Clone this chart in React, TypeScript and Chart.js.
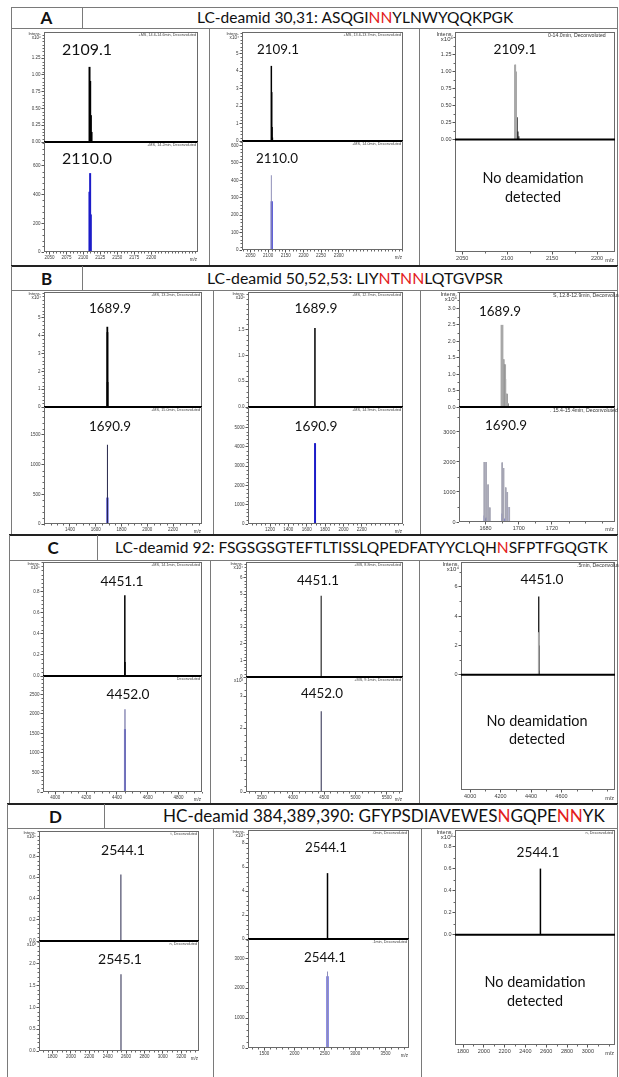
import React, { useEffect, useRef, useMemo } from 'react';
import { Chart, registerables } from 'chart.js';

Chart.register(...registerables);

const FONT = 'Lato, "Open Sans", "Noto Sans", sans-serif';
const TFONT = '"Liberation Sans", Arial, sans-serif';
const INK = '#000000';
const BLUE = '#1c1cc8';
const GRAY = '#a8a8a8';
const LAV = '#8e8eb8';
const NAVY = '#26264a';
const RED = '#e3201b';

// ---------------- titles ----------------
const titleA = 'LC-deamid 30,31: ';
const seqA = [['ASQGI', 0], ['NN', 1], ['YLNWYQQKPGK', 0]];
const titleB = 'LC-deamid 50,52,53: ';
const seqB = [['LIY', 0], ['N', 1], ['T', 0], ['NN', 1], ['LQTGVPSR', 0]];
const titleC = 'LC-deamid 92: ';
const seqC = [['FSGSGSGTEFTLTISSLQPEDFATYYCLQH', 0], ['N', 1], ['SFPTFGQGTK', 0]];
const titleD = 'HC-deamid 384,389,390: ';
const seqD = [['GFYPSDIAVEWES', 0], ['N', 1], ['GQPE', 0], ['NN', 1], ['YK', 0]];

// ---------------- axis ticks ----------------
const a1XTicks = [2050, 2075, 2100, 2125, 2150, 2175, 2200];
const a2XTicks = [2050, 2100, 2150, 2200, 2250, 2300];
const a3XTicks = [2050, 2100, 2150, 2200];
const b1XTicks = [1400, 1600, 1800, 2000, 2200];
const b2XTicks = [1200, 1400, 1600, 1800, 2000, 2200];
const b3XTicks = [1680, 1700, 1720];
const c1XTicks = [4000, 4200, 4400, 4600, 4800];
const c2XTicks = [3500, 4000, 4500, 5000, 5500];
const c3XTicks = [4000, 4200, 4400, 4600];
const d1XTicks = [1800, 2000, 2200, 2400, 2600, 2800, 3000, 3200];
const d2XTicks = [1500, 2000, 2500, 3000, 3500];
const d3XTicks = [1800, 2000, 2200, 2400, 2600, 2800, 3000];

const a1TopYTicks = [0, 0.25, 0.5, 0.75, 1.0, 1.25];
const a1BotYTicks = [0, 200, 400, 600];
const a2TopYTicks = [0, 1, 2, 3, 4, 5];
const a2BotYTicks = [0, 100, 200, 300, 400, 500, 600];
const a3YTicks = [0, 0.25, 0.5, 0.75, 1.0, 1.25];
const b1TopYTicks = [0, 1, 2, 3, 4, 5];
const b1BotYTicks = [0, 500, 1000, 1500];
const b2TopYTicks = [0, 0.5, 1.0, 1.5];
const b2BotYTicks = [0, 1000, 2000, 3000, 4000, 5000];
const b3TopYTicks = [0, 0.5, 1.0, 1.5, 2.0, 2.5, 3.0];
const b3BotYTicks = [0, 1000, 2000, 3000];
const c1TopYTicks = [0, 0.2, 0.4, 0.6, 0.8];
const c1BotYTicks = [0, 500, 1000, 1500, 2000, 2500];
const c2TopYTicks = [0, 1, 2, 3, 4, 5, 6];
const c2BotYTicks = [0, 1, 2, 3];
const c3YTicks = [0, 2, 4, 6];
const d1TopYTicks = [0, 0.2, 0.4, 0.6, 0.8];
const d1BotYTicks = [0, 0.5, 1.0, 1.5, 2.0];
const d2TopYTicks = [0, 2, 4, 6, 8];
const d2BotYTicks = [0, 1000, 2000, 3000];
const d3YTicks = [0, 0.2, 0.4, 0.6, 0.8];

// ---------------- peak labels ----------------
const aLabels = ['2109.1', '2110.0'];
const bLabels = ['1689.9', '1690.9'];
const cLabels = ['4451.1', '4452.0', '4451.0'];
const dLabels = ['2544.1', '2545.1'];
const noDeamid = ['No deamidation', 'detected'];

// ---------------- spectra (m/z, intensity) ----------------
const a1TopMz = [2109.1, 2110.1, 2111.1, 2112.1];
const a1TopInt = [1.12, 0.91, 0.4, 0.15];
const a1BotMz = [2109.0, 2110.0, 2111.0];
const a1BotInt = [420, 550, 262];

const a2TopMz = [2109.1, 2110.1, 2111.1, 2112.1];
const a2TopInt = [4.3, 2.8, 0.8, 0.2];
const a2BotLightMz = [2109.1];
const a2BotLightInt = [430];
const a2BotMz = [2110.1];
const a2BotInt = [280];

const a3GrayMz = [2109.1, 2110.1];
const a3GrayInt = [1.1, 1.0];
const a3InkMz = [2108.9, 2110.3, 2111.2, 2112.1, 2113.1];
const a3InkInt = [1.1, 0.8, 0.33, 0.12, 0.05];

const b1TopMz = [1689.9, 1690.9, 1691.9];
const b1TopInt = [4.5, 4.2, 1.4];
const b1BotDarkMz = [1690.9];
const b1BotDarkInt = [1335];
const b1BotMz = [1690.9];
const b1BotInt = [445];

const b2TopMz = [1689.9];
const b2TopInt = [1.53];
const b2BotMz = [1690.9];
const b2BotInt = [4200];

const b3TopGrayMz = [1689.5, 1690.3, 1691.1, 1691.9, 1692.7, 1693.5];
const b3TopGrayInt = [2.5, 2.5, 1.45, 1.3, 0.4, 0.12];
const b3TopInkMz = [1689.7, 1690.5, 1691.3, 1692.1, 1692.9, 1693.7];
const b3TopInkInt = [1.2, 1.45, 1.3, 0.85, 0.4, 0.1];
const b3BotGrayMz = [1679.2, 1680.3, 1681.5, 1682.6, 1690.0, 1690.9, 1692.2, 1693.1, 1694.3];
const b3BotGrayInt = [2000, 2000, 1250, 480, 1980, 1800, 1150, 1000, 500];
const b3BotBlueMz = [1679.2, 1679.8, 1680.3, 1690.0, 1690.6, 1691.2, 1693.1, 1694.3];
const b3BotBlueInt = [220, 120, 150, 280, 150, 120, 1000, 500];

const c1TopMz = [4451.1, 4452.1];
const c1TopInt = [0.765, 0.133];
const c1BotLightMz = [4452.0];
const c1BotLightInt = [2120];
const c1BotMz = [4452.0];
const c1BotInt = [1610];

const c2TopMz = [4451.1];
const c2TopInt = [4.89];
const c2BotMz = [4452.0];
const c2BotInt = [2.53];

const c3GrayMz = [4450.6];
const c3GrayInt = [2.9];
const c3InkMz = [4451.0, 4452.0, 4453.0];
const c3InkInt = [5.34, 2.0, 0.3];

const d1TopMz = [2544.1];
const d1TopInt = [0.632];
const d1BotMz = [2545.1];
const d1BotInt = [1.756];

const d2TopMz = [2544.1];
const d2TopInt = [5.5];
const d2BotLightMz = [2544.1];
const d2BotLightInt = [2560];
const d2BotMz = [2544.1];
const d2BotInt = [2400];

const d3Mz = [2544.1];
const d3Int = [0.6];

// ---------------- layout ----------------
const AXW = 34, PADT = 3, PADR = 4, PADB = 3, AXH = 12;
const RIGHT = 618;

const SECTIONS = [
  { id: 'A', top: 7, hdrB: 28, bottom: 266, left: 11, lblR: 82, div1: 209, div2: 419, titleL: 197, titleW: 317, thick: false, title: titleA, seq: seqA },
  { id: 'B', top: 266, hdrB: 290, bottom: 535, left: 11, lblR: 82, div1: 213, div2: 420, titleL: 207, titleW: 296, thick: true, title: titleB, seq: seqB },
  { id: 'C', top: 535, hdrB: 560, bottom: 804, left: 9, lblR: 97, div1: 210, div2: 419, titleL: 115, titleW: 493, thick: true, title: titleC, seq: seqC },
  { id: 'D', top: 804, hdrB: 828, bottom: 1077, left: 7, lblR: 104, div1: 213, div2: 421, titleL: 163, titleW: 442, thick: true, title: titleD, seq: seqD },
];

const S = (mz, inten, color, w) => ({ mz, inten, color, w });

const COLS = [
  { kind: 'two', L: 44, R: 198, T: 32, M: 142, B: 252, xMin: 2042, xMax: 2269, xTicks: a1XTicks, xMinor: 5, yMinor: 5, tick: 4.5, peak: 50,
    top: { yMax: 1.64, yTicks: a1TopYTicks, yDigits: 2, exp: 'x10⁶', series: [S(a1TopMz, a1TopInt, INK, 2)], label: aLabels[0], lx: 87, ly: 50, info: '+MS, 14.6-14.6min, Deconvoluted' },
    bot: { yMax: 767, yTicks: a1BotYTicks, yDigits: 0, exp: '', series: [S(a1BotMz, a1BotInt, BLUE, 2)], label: aLabels[1], lx: 87, ly: 159, info: '+MS, 14.2min, Deconvoluted' } },
  { kind: 'two', L: 242, R: 403, T: 32, M: 141, B: 250, xMin: 2026, xMax: 2482, xTicks: a2XTicks, xMinor: 5, yMinor: 5, tick: 4.5, peak: 42,
    top: { yMax: 6.24, yTicks: a2TopYTicks, yDigits: 0, exp: 'x10⁴', series: [S(a2TopMz, a2TopInt, INK, 1.5)], label: aLabels[0], lx: 278, ly: 50, info: '+MS, 13.6-13.7min, Deconvoluted' },
    bot: { yMax: 626, yTicks: a2BotYTicks, yDigits: 0, exp: '', series: [S(a2BotLightMz, a2BotLightInt, LAV, 1), S(a2BotMz, a2BotInt, BLUE, 2)], label: aLabels[1], lx: 277, ly: 159, info: '+MS, 14.0min, Deconvoluted' } },
  { kind: 'one', L: 455, R: 615, T: 32, B: 252, xMin: 2042, xMax: 2220, xTicks: a3XTicks, xMinor: 2, yMinor: 2, tick: 5.5, peak: 43,
    yMin: -1.65, yMax: 1.58, yTicks: a3YTicks, yDigits: 2, exp: 'x10⁵',
    series: [S(a3GrayMz, a3GrayInt, GRAY, 1.6), S(a3InkMz, a3InkInt, INK, 0.9)], label: aLabels[0], lx: 515, ly: 50,
    info: '0-14.0min, Deconvoluted', infoX: 548, nd: [533, 178, 197] },

  { kind: 'two', L: 44, R: 202, T: 292, M: 407, B: 524, xMin: 1199, xMax: 2424, xTicks: b1XTicks, xMinor: 4, yMinor: 5, tick: 4.5, peak: 42,
    top: { yMax: 6.45, yTicks: b1TopYTicks, yDigits: 0, exp: 'x10⁴', series: [S(b1TopMz, b1TopInt, INK, 1.8)], label: bLabels[0], lx: 110, ly: 309, info: '+MS, 13.2min, Deconvoluted' },
    bot: { yMax: 1970, yTicks: b1BotYTicks, yDigits: 0, exp: '', series: [S(b1BotDarkMz, b1BotDarkInt, NAVY, 1), S(b1BotMz, b1BotInt, BLUE, 2)], label: bLabels[1], lx: 110, ly: 427, info: '+MS, 15.0min, Deconvoluted' } },
  { kind: 'two', L: 248, R: 403, T: 292, M: 407, B: 524, xMin: 960, xMax: 2650, xTicks: b2XTicks, xMinor: 4, yMinor: 5, tick: 4.5, peak: 43,
    top: { yMax: 2.23, yTicks: b2TopYTicks, yDigits: 1, exp: 'x10⁵', series: [S(b2TopMz, b2TopInt, INK, 1.5)], label: bLabels[0], lx: 316, ly: 309, info: '+MS, 12.7min, Deconvoluted' },
    bot: { yMax: 6076, yTicks: b2BotYTicks, yDigits: 0, exp: '', series: [S(b2BotMz, b2BotInt, BLUE, 2)], label: bLabels[1], lx: 316, ly: 427, info: '+MS, 14.9min, Deconvoluted' } },
  { kind: 'two', L: 459, R: 615, T: 292, M: 407, B: 522, xMin: 1664, xMax: 1758, xTicks: b3XTicks, xMinor: 2, yMinor: 2, tick: 5.5, peak: 42,
    top: { yMax: 3.5, yTicks: b3TopYTicks, yDigits: 1, exp: 'x10⁵', series: [S(b3TopGrayMz, b3TopGrayInt, GRAY, 1.5), S(b3TopInkMz, b3TopInkInt, INK, 0.9)], label: bLabels[0], lx: 500, ly: 312, info: 'S, 12.8-12.9min, Deconvoluted', infoX: 553 },
    bot: { yMax: 3833, yTicks: b3BotYTicks, yDigits: 0, exp: '', series: [S(b3BotGrayMz, b3BotGrayInt, '#a6a6b4', 1.6), S(b3BotGrayMz, b3BotGrayInt, NAVY, 0.6), S(b3BotBlueMz, b3BotBlueInt, BLUE, 1)], label: bLabels[1], lx: 506, ly: 426, info: '. 15.4-15.4min, Deconvoluted', infoX: 550 } },

  { kind: 'two', L: 43, R: 202, T: 562, M: 676, B: 792, xMin: 3920, xMax: 4952, xTicks: c1XTicks, xMinor: 4, yMinor: 5, tick: 4.5, peak: 43,
    top: { yMax: 1.08, yTicks: c1TopYTicks, yDigits: 1, exp: 'x10⁵', series: [S(c1TopMz, c1TopInt, INK, 1.5)], label: cLabels[0], lx: 122, ly: 582, info: '+MS, 14.1min, Deconvoluted' },
    bot: { yMax: 2969, yTicks: c1BotYTicks, yDigits: 0, exp: '', series: [S(c1BotLightMz, c1BotLightInt, LAV, 1.5), S(c1BotMz, c1BotInt, BLUE, 2)], label: cLabels[1], lx: 128, ly: 695, info: 'Deconvoluted' } },
  { kind: 'two', L: 246, R: 403, T: 562, M: 677, B: 792, xMin: 3250, xMax: 5759, xTicks: c2XTicks, xMinor: 5, yMinor: 5, tick: 4.5, peak: 42,
    top: { yMax: 6.93, yTicks: c2TopYTicks, yDigits: 0, exp: 'x10⁴', series: [S(c2TopMz, c2TopInt, INK, 1)], label: cLabels[0], lx: 318, ly: 581, info: '+MS, 8.8min, Deconvoluted' },
    bot: { yMax: 3.6, yTicks: c2BotYTicks, yDigits: 0, exp: 'x10³', series: [S(c2BotMz, c2BotInt, NAVY, 1)], label: cLabels[1], lx: 322, ly: 694, info: '+MS, 9.1min, Deconvoluted' } },
  { kind: 'one', L: 461, R: 615, T: 562, B: 790, xMin: 3940, xMax: 4952, xTicks: c3XTicks, xMinor: 2, yMinor: 2, tick: 5.5, peak: 43,
    yMin: -7.84, yMax: 7.68, yTicks: c3YTicks, yDigits: 0, exp: 'x10⁴',
    series: [S(c3GrayMz, c3GrayInt, GRAY, 1.6), S(c3InkMz, c3InkInt, INK, 1.2)], label: cLabels[2], lx: 542, ly: 580,
    info: '.5min, Deconvoluted', infoX: 577, nd: [537, 721, 739] },

  { kind: 'two', L: 39, R: 199, T: 831, M: 941, B: 1051, xMin: 1653, xMax: 3394, xTicks: d1XTicks, xMinor: 4, yMinor: 5, tick: 4.5, peak: 44,
    top: { yMax: 1.044, yTicks: d1TopYTicks, yDigits: 1, exp: 'x10⁵', series: [S(d1TopMz, d1TopInt, NAVY, 1)], label: dLabels[0], lx: 123, ly: 850, info: 't, Deconvoluted' },
    bot: { yMax: 2.52, yTicks: d1BotYTicks, yDigits: 1, exp: 'x10³', series: [S(d1BotMz, d1BotInt, NAVY, 1)], label: dLabels[1], lx: 120, ly: 959, info: 'n, Deconvoluted' } },
  { kind: 'two', L: 248, R: 409, T: 830, M: 939, B: 1048, xMin: 1232, xMax: 3889, xTicks: d2XTicks, xMinor: 5, yMinor: 5, tick: 4.5, peak: 42,
    top: { yMax: 9.1, yTicks: d2TopYTicks, yDigits: 0, exp: 'x10⁴', series: [S(d2TopMz, d2TopInt, INK, 1.5)], label: dLabels[0], lx: 326, ly: 848, info: '.0min, Deconvoluted' },
    bot: { yMax: 3645, yTicks: d2BotYTicks, yDigits: 0, exp: '', series: [S(d2BotLightMz, d2BotLightInt, LAV, 1), S(d2BotMz, d2BotInt, BLUE, 2)], label: dLabels[0], lx: 325, ly: 958, info: '.1min, Deconvoluted' } },
  { kind: 'one', L: 455, R: 615, T: 830, B: 1045, xMin: 1723, xMax: 3261, xTicks: d3XTicks, xMinor: 2, yMinor: 2, tick: 5.5, peak: 43,
    yMin: -1.0, yMax: 0.95, yTicks: d3YTicks, yDigits: 1, exp: 'x10⁵',
    series: [S(d3Mz, d3Int, INK, 1.5)], label: dLabels[0], lx: 538, ly: 853,
    info: 'n, Deconvoluted', nd: [535, 982, 1001] },
];

// ---------------- helpers ----------------
let mctx = null;
function fitFont(text, width, weight = 'normal', family = FONT) {
  if (!mctx) mctx = document.createElement('canvas').getContext('2d');
  mctx.font = `${weight} 100px ${family}`;
  const w = mctx.measureText(text).width;
  return w > 0 ? (100 * width) / w : 14;
}

function minorVals(ticks, n, min, max) {
  if (!ticks || ticks.length < 2 || n < 2) return [];
  const step = (ticks[1] - ticks[0]) / n;
  let v = ticks[0];
  while (v - step >= min - 1e-9) v -= step;
  const out = [];
  for (; v <= max + 1e-9; v += step) {
    if (!ticks.some((t) => Math.abs(t - v) < step * 0.01)) out.push(v);
  }
  return out;
}

function buildPanes(c) {
  const pk = fitFont('2109.1', c.peak);
  const ndSize = fitFont('No deamidation', 101);
  const intens = (T, big) => [
    { x: c.L - (big ? 2 : 3), y: T + (big ? 2 : 1.5), s: 'Intens.', size: big ? 5.5 : 4.2, font: TFONT, color: '#333', align: 'right' },
  ];
  const expT = (T, s, big) => (s ? [{ x: c.L - (big ? 2 : 3), y: T + (big ? 7 : 5.5), s, size: big ? 6 : 4.6, font: TFONT, color: '#333', align: 'right' }] : []);
  const infoT = (T, info, infoX) =>
    infoX
      ? [{ x: infoX, y: T + 3.5, s: info, size: 5.2, font: TFONT, color: '#333', align: 'left' }]
      : [{ x: c.R - 2, y: T + 3, s: info, size: 3.8, font: TFONT, color: '#444', align: 'right' }];
  const big = c.tick > 5;
  if (c.kind === 'two') {
    const top = {
      L: c.L, R: c.R, T: c.T, B: c.M, xMin: c.xMin, xMax: c.xMax, xTicks: null, xMinor: c.xMinor,
      yMin: 0, yMax: c.top.yMax, yTicks: c.top.yTicks, yDigits: c.top.yDigits, yMinor: c.yMinor,
      series: c.top.series, zero: true, sides: 'tlr', tick: c.tick,
      texts: [
        { x: c.top.lx, y: c.top.ly, s: c.top.label, size: pk, font: FONT, color: '#111', align: 'center' },
        ...intens(c.T, big), ...expT(c.T, c.top.exp, big), ...infoT(c.T, c.top.info, c.top.infoX),
      ],
    };
    const bot = {
      L: c.L, R: c.R, T: c.M, B: c.B, xMin: c.xMin, xMax: c.xMax, xTicks: c.xTicks, xMinor: c.xMinor,
      yMin: 0, yMax: c.bot.yMax, yTicks: c.bot.yTicks, yDigits: c.bot.yDigits, yMinor: c.yMinor,
      series: c.bot.series, zero: false, sides: 'lrb', tick: c.tick,
      texts: [
        { x: c.bot.lx, y: c.bot.ly, s: c.bot.label, size: pk, font: FONT, color: '#111', align: 'center' },
        ...(c.bot.exp ? [{ x: c.L - 3, y: c.M + 4, s: c.bot.exp, size: 4.6, font: TFONT, color: '#333', align: 'right' }] : []),
        ...infoT(c.M, c.bot.info, c.bot.infoX),
        { x: c.R - 1, y: c.B + 7.5, s: 'm/z', size: c.tick, font: TFONT, color: '#333', align: 'right' },
      ],
    };
    return [top, bot];
  }
  return [{
    L: c.L, R: c.R, T: c.T, B: c.B, xMin: c.xMin, xMax: c.xMax, xTicks: c.xTicks, xMinor: c.xMinor,
    yMin: c.yMin, yMax: c.yMax, yTicks: c.yTicks, yDigits: c.yDigits, yMinor: c.yMinor,
    series: c.series, zero: true, sides: 'tlrb', tick: c.tick,
    texts: [
      { x: c.lx, y: c.ly, s: c.label, size: pk, font: FONT, color: '#111', align: 'center' },
      ...intens(c.T, true), ...expT(c.T, c.exp, true), ...infoT(c.T, c.info, c.infoX),
      { x: c.nd[0], y: c.nd[1], s: noDeamid[0], size: ndSize, font: FONT, color: '#111', align: 'center' },
      { x: c.nd[0], y: c.nd[2], s: noDeamid[1], size: ndSize, font: FONT, color: '#111', align: 'center' },
      { x: c.R - 1, y: c.B + 8, s: 'm/z', size: c.tick, font: TFONT, color: '#333', align: 'right' },
    ],
  }];
}

function makeConfig(p, cl, ct) {
  const hasX = !!p.xTicks;
  const decor = {
    id: 'decor',
    afterDraw(chart) {
      const { ctx, chartArea: a, scales } = chart;
      const xs = scales.x, ys = scales.y;
      ctx.save();
      ctx.strokeStyle = '#6a6a6a';
      ctx.lineWidth = 1;
      const l = Math.round(a.left) + 0.5, r = Math.round(a.right) - 0.5;
      const t = Math.round(a.top) + 0.5, b = Math.round(a.bottom) - 0.5;
      ctx.beginPath();
      if (p.sides.includes('t')) { ctx.moveTo(l, t); ctx.lineTo(r, t); }
      if (p.sides.includes('b')) { ctx.moveTo(l, b); ctx.lineTo(r, b); }
      if (p.sides.includes('l')) { ctx.moveTo(l, t - 0.5); ctx.lineTo(l, b + 0.5); }
      if (p.sides.includes('r')) { ctx.moveTo(r, t - 0.5); ctx.lineTo(r, b + 0.5); }
      ctx.stroke();
      ctx.strokeStyle = '#666';
      ctx.beginPath();
      for (const v of minorVals(p.yTicks, p.yMinor, Math.max(0, p.yMin), p.yMax)) {
        const py = Math.round(ys.getPixelForValue(v)) + 0.5;
        ctx.moveTo(a.left - 1.5, py); ctx.lineTo(a.left, py);
      }
      if (hasX) {
        for (const v of minorVals(p.xTicks, p.xMinor, p.xMin, p.xMax)) {
          const px = Math.round(xs.getPixelForValue(v)) + 0.5;
          ctx.moveTo(px, a.bottom); ctx.lineTo(px, a.bottom + 1.5);
        }
      }
      ctx.stroke();
      if (p.zero) {
        const y0 = ys.getPixelForValue(0);
        ctx.strokeStyle = '#000';
        ctx.lineWidth = 2;
        ctx.beginPath();
        ctx.moveTo(a.left, y0); ctx.lineTo(a.right, y0);
        ctx.stroke();
      }
      for (const tx of p.texts) {
        ctx.font = `${tx.weight || 'normal'} ${tx.size}px ${tx.font || FONT}`;
        ctx.fillStyle = tx.color || '#111';
        ctx.textAlign = tx.align || 'center';
        ctx.textBaseline = 'middle';
        ctx.fillText(tx.s, tx.x - cl, tx.y - ct);
      }
      ctx.restore();
    },
  };
  const tickFont = { size: p.tick, family: TFONT };
  return {
    type: 'bar',
    data: {
      datasets: p.series.map((s) => ({
        data: s.mz.map((x, i) => ({ x, y: s.inten[i] })),
        backgroundColor: s.color,
        borderWidth: 0,
        barThickness: s.w,
        grouped: false,
        inflateAmount: 0,
        xAxisID: 'x',
        yAxisID: 'y',
      })),
    },
    options: {
      animation: false,
      responsive: false,
      maintainAspectRatio: false,
      devicePixelRatio: 1,
      events: [],
      layout: { padding: { left: 0, top: PADT, right: PADR, bottom: hasX ? 0 : PADB } },
      plugins: { legend: { display: false }, tooltip: { enabled: false }, title: { display: false } },
      scales: {
        x: {
          type: 'linear', position: 'bottom', min: p.xMin, max: p.xMax, offset: false, display: hasX,
          grid: { display: true, drawOnChartArea: false, drawTicks: true, tickLength: 2.5, color: '#555', offset: false },
          border: { display: false },
          ticks: { font: tickFont, color: '#3a3a3a', padding: 1, autoSkip: false, maxRotation: 0, minRotation: 0, callback: (v) => String(v) },
          afterBuildTicks: (ax) => { ax.ticks = (p.xTicks || []).map((v) => ({ value: v })); },
          afterFit: (ax) => { ax.height = hasX ? AXH : 0; ax.paddingLeft = 0; ax.paddingRight = 0; },
        },
        y: {
          type: 'linear', position: 'left', min: p.yMin, max: p.yMax,
          grid: { display: true, drawOnChartArea: false, drawTicks: true, tickLength: 2.5, color: '#555' },
          border: { display: false },
          ticks: { font: tickFont, color: '#3a3a3a', padding: 1, autoSkip: false, callback: (v) => Number(v).toFixed(p.yDigits) },
          afterBuildTicks: (ax) => { ax.ticks = p.yTicks.map((v) => ({ value: v })); },
          afterFit: (ax) => { ax.width = AXW; ax.paddingTop = 0; ax.paddingBottom = 0; },
        },
      },
    },
    plugins: [decor],
  };
}

function Pane({ spec }) {
  const ref = useRef(null);
  const hasX = !!spec.xTicks;
  const cl = spec.L - AXW;
  const ct = spec.T - PADT;
  const cw = spec.R - spec.L + AXW + PADR;
  const ch = spec.B - spec.T + PADT + (hasX ? AXH : PADB);
  useEffect(() => {
    const chart = new Chart(ref.current, makeConfig(spec, cl, ct));
    return () => chart.destroy();
  }, []);
  return (
    <canvas ref={ref} width={cw} height={ch}
      style={{ position: 'absolute', left: cl, top: ct, width: cw, height: ch }} />
  );
}

function Line({ x, y, w, h, c = '#7a7a7a' }) {
  return <div style={{ position: 'absolute', left: x, top: y, width: w, height: h, background: c }} />;
}

function Section({ s }) {
  const full = s.title + s.seq.map((p) => p[0]).join('');
  const size = fitFont(full, s.titleW);
  return (
    <>
      {s.thick
        ? <Line x={s.left} y={s.top - 1} w={RIGHT - s.left} h={2} c="#222" />
        : <Line x={s.left} y={s.top} w={RIGHT - s.left} h={1} />}
      <Line x={s.left} y={s.top} w={1} h={s.bottom - s.top} />
      <Line x={RIGHT - 1} y={s.top} w={1} h={s.bottom - s.top} />
      <Line x={s.left} y={s.hdrB} w={RIGHT - s.left} h={1} />
      <Line x={s.lblR} y={s.top} w={1} h={s.hdrB - s.top} />
      <Line x={s.div1} y={s.hdrB} w={1} h={s.bottom - s.hdrB} />
      <Line x={s.div2} y={s.hdrB} w={1} h={s.bottom - s.hdrB} />
      <div style={{ position: 'absolute', left: s.left, width: s.lblR - s.left, top: s.top, height: s.hdrB - s.top,
        display: 'flex', alignItems: 'center', justifyContent: 'center', fontWeight: 700, fontSize: 17, fontFamily: FONT, color: '#111' }}>
        {s.id}
      </div>
      <div style={{ position: 'absolute', left: s.titleL, top: s.top, height: s.hdrB - s.top, display: 'flex', alignItems: 'center',
        fontSize: size, fontFamily: FONT, color: '#111', lineHeight: 1 }}>
        <span style={{ whiteSpace: 'pre' }}>
          {s.title}
          {s.seq.map((p, i) => <span key={i} style={{ color: p[1] ? RED : '#111' }}>{p[0]}</span>)}
        </span>
      </div>
    </>
  );
}

export default function App() {
  const panes = useMemo(() => COLS.flatMap((c) => buildPanes(c)), []);
  return (
    <div style={{ position: 'absolute', left: 0, top: 0, width: 619, height: 1077, background: '#fff', overflow: 'hidden', fontFamily: FONT }}>
      {SECTIONS.map((s) => <Section key={s.id} s={s} />)}
      {panes.map((p, i) => <Pane key={i} spec={p} />)}
    </div>
  );
}
